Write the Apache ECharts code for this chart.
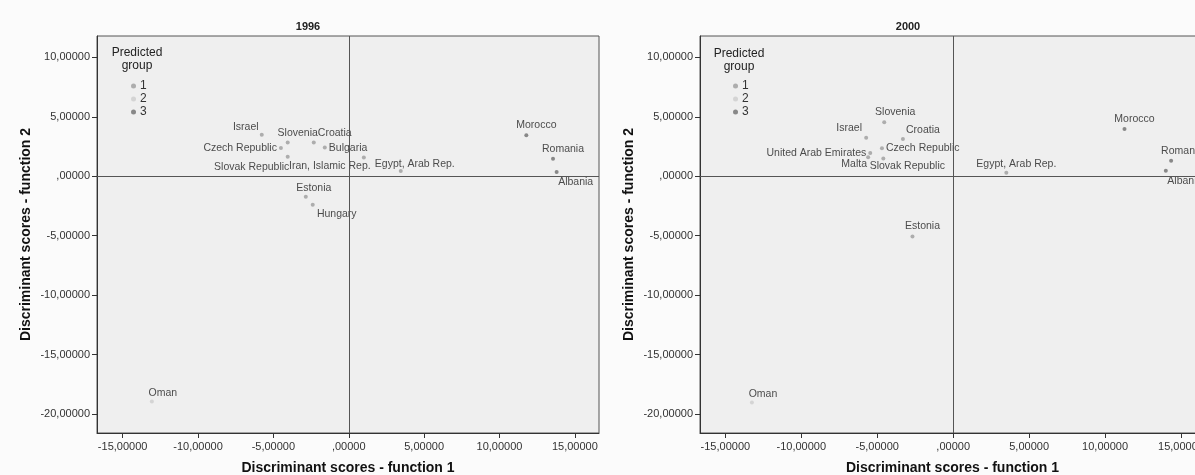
<!DOCTYPE html>
<html>
<head>
<meta charset="utf-8">
<title>Discriminant scores 1996 / 2000</title>
<script src="https://cdn.jsdelivr.net/npm/echarts@6/dist/echarts.min.js"></script>
<style>
  html, body { margin: 0; padding: 0; background: #fbfbfb; overflow: hidden; }
  #chart { width: 1195px; height: 475px; }
</style>
</head>
<body>
<div id="chart"></div>
<script>
// ---- data: discriminant scores per country ----
const names1996 = ['Israel', 'Slovenia', 'Croatia', 'Czech Republic', 'Bulgaria', 'Slovak Republic',
  'Iran, Islamic Rep.', 'Egypt, Arab Rep.', 'Estonia', 'Hungary', 'Morocco', 'Romania', 'Albania', 'Oman'];
const f1_1996 = [-5.77, -4.05, -2.32, -4.50, -1.59, -4.05, 1.00, 3.45, -2.85, -2.39, 11.78, 13.55, 13.79, -13.06];
const f2_1996 = [3.50, 2.83, 2.83, 2.37, 2.41, 1.65, 1.57, 0.45, -1.72, -2.39, 3.44, 1.48, 0.36, -18.95];
const group1996 = [1, 1, 1, 1, 1, 1, 1, 1, 1, 1, 3, 3, 3, 2];

const names2000 = ['Slovenia', 'Israel', 'Croatia', 'Czech Republic', 'United Arab Emirates', 'Malta',
  'Slovak Republic', 'Egypt, Arab Rep.', 'Estonia', 'Morocco', 'Romania', 'Albania', 'Oman'];
const f1_2000 = [-4.54, -5.73, -3.31, -4.69, -5.46, -5.60, -4.60, 3.50, -2.68, 11.28, 14.35, 14.00, -13.25];
const f2_2000 = [4.54, 3.24, 3.14, 2.35, 1.96, 1.60, 1.50, 0.30, -5.06, 3.98, 1.31, 0.47, -19.03];
const group2000 = [1, 1, 1, 1, 1, 1, 1, 1, 1, 3, 3, 3, 2];

const groups = ['1', '2', '3'];
const tickValues = [-20, -15, -10, -5, 0, 5, 10, 15];

// ---- label placement around each point (pixel offsets of the label centre) ----
const place1996 = {
  'Israel': [-16, -8], 'Slovenia': [10, -10], 'Croatia': [21, -10], 'Czech Republic': 'left',
  'Bulgaria': 'right', 'Slovak Republic': [-36, 10], 'Iran, Islamic Rep.': [-34, 9],
  'Egypt, Arab Rep.': [14, -7], 'Estonia': [8, -9], 'Hungary': [24, 9], 'Morocco': [10, -10],
  'Romania': [10, -10], 'Albania': [19, 10], 'Oman': [11, -8]
};
const place2000 = {
  'Slovenia': [11, -10], 'Israel': [-17, -10], 'Croatia': [20, -9], 'Czech Republic': 'right',
  'United Arab Emirates': 'left', 'Malta': [-14, 7], 'Slovak Republic': [24, 8],
  'Egypt, Arab Rep.': [10, -9], 'Estonia': [10, -10], 'Morocco': [10, -10],
  'Romania': [11, -10], 'Albania': [19, 10], 'Oman': [11, -8]
};

const groupColors = { '1': '#9c9c9c', '2': '#cdcdcd', '3': '#6e6e6e' };
const FONT = '"Liberation Sans", Arial, sans-serif';

function fmt(v) {
  let s = Math.abs(v).toFixed(5).replace('.', ',');
  if (s.startsWith('0,')) s = s.slice(1);
  return (v < 0 ? '-' : '') + s;
}

function pointLabel(p) {
  const base = { show: true, fontSize: 10.5, color: '#222', fontFamily: FONT };
  if (typeof p === 'string') return Object.assign(base, { position: p, distance: 2 });
  return Object.assign(base, { position: 'inside', offset: p, align: 'center', verticalAlign: 'middle' });
}

function buildSeries(names, f1, f2, grp, place, idx) {
  return groups.map((g, gi) => {
    const data = [];
    names.forEach((n, i) => {
      if (String(grp[i]) !== g) return;
      data.push({ name: n, value: [f1[i], f2[i]], label: pointLabel(place[n]) });
    });
    const s = {
      name: g, type: 'scatter', xAxisIndex: idx, yAxisIndex: idx,
      symbol: 'circle', symbolSize: 4,
      itemStyle: { color: groupColors[g] },
      label: { show: true, formatter: '{b}' },
      data: data, z: 3
    };
    if (gi === 0) {
      s.markLine = {
        silent: true, symbol: 'none', animation: false,
        label: { show: false },
        lineStyle: { color: '#555', type: 'solid', width: 1 },
        data: [{ xAxis: 0 }, { yAxis: 0 }]
      };
    }
    return s;
  });
}

function xAxisCfg(idx, min, max) {
  const ticks = tickValues.filter(v => v >= min && v <= max);
  return {
    gridIndex: idx, type: 'value', min: min, max: max,
    name: 'Discriminant scores - function 1', nameLocation: 'middle', nameGap: 28,
    nameTextStyle: { fontSize: 14, fontWeight: 'bold', color: '#111', fontFamily: FONT },
    axisLine: { show: true, onZero: false, lineStyle: { color: '#333' } },
    axisTick: { show: true, length: 5, lineStyle: { color: '#333' }, customValues: ticks },
    axisLabel: { margin: 8, fontSize: 11, color: '#333', fontFamily: FONT, formatter: fmt, customValues: ticks },
    splitLine: { show: false }
  };
}

function yAxisCfg(idx) {
  const min = -21.6, max = 11.8;
  const ticks = tickValues.filter(v => v >= min && v <= max);
  return {
    gridIndex: idx, type: 'value', min: min, max: max,
    name: 'Discriminant scores - function 2', nameLocation: 'middle', nameGap: 64,
    nameTextStyle: { fontSize: 14, fontWeight: 'bold', color: '#111', fontFamily: FONT },
    axisLine: { show: true, onZero: false, lineStyle: { color: '#333' } },
    axisTick: { show: true, length: 5, lineStyle: { color: '#333' }, customValues: ticks },
    axisLabel: { margin: 7, fontSize: 11, color: '#333', fontFamily: FONT, formatter: fmt, customValues: ticks },
    splitLine: { show: false }
  };
}

function legendCfg(left) {
  return {
    data: groups, orient: 'vertical', left: left, top: 75, itemGap: 1,
    itemWidth: 5, itemHeight: 5, icon: 'circle', selectedMode: false,
    textStyle: { fontSize: 12, color: '#333', fontFamily: FONT, padding: [0, 0, 0, -1] }
  };
}

function textEl(x, y, text, size, weight) {
  return {
    type: 'text', x: x, y: y, silent: true,
    style: { text: text, fill: '#222', font: (weight || 'normal') + ' ' + size + 'px ' + FONT, align: 'center', verticalAlign: 'middle' }
  };
}

const gridStyle = { show: true, backgroundColor: '#efefef', borderColor: '#555', borderWidth: 1, outerBoundsMode: 'none', containLabel: false };

const chart = echarts.init(document.getElementById('chart'), null, { renderer: 'canvas' });
chart.setOption({
  animation: false,
  backgroundColor: '#fbfbfb',
  grid: [
    Object.assign({ left: 97, top: 36, width: 502, height: 397 }, gridStyle),
    // the 2000 panel runs past the right edge of the page
    Object.assign({ left: 700, top: 36, width: 505, height: 397 }, gridStyle)
  ],
  xAxis: [xAxisCfg(0, -16.7, 16.6), xAxisCfg(1, -16.67, 16.58)],
  yAxis: [yAxisCfg(0), yAxisCfg(1)],
  legend: [legendCfg(126), legendCfg(728)],
  graphic: [
    textEl(308, 27, '1996', 11, 'bold'),
    textEl(908, 27, '2000', 11, 'bold'),
    textEl(137, 53, 'Predicted', 12),
    textEl(137, 66, 'group', 12),
    textEl(739, 54, 'Predicted', 12),
    textEl(739, 67, 'group', 12)
  ],
  series: [].concat(
    buildSeries(names1996, f1_1996, f2_1996, group1996, place1996, 0),
    buildSeries(names2000, f1_2000, f2_2000, group2000, place2000, 1)
  )
});
</script>
</body>
</html>
